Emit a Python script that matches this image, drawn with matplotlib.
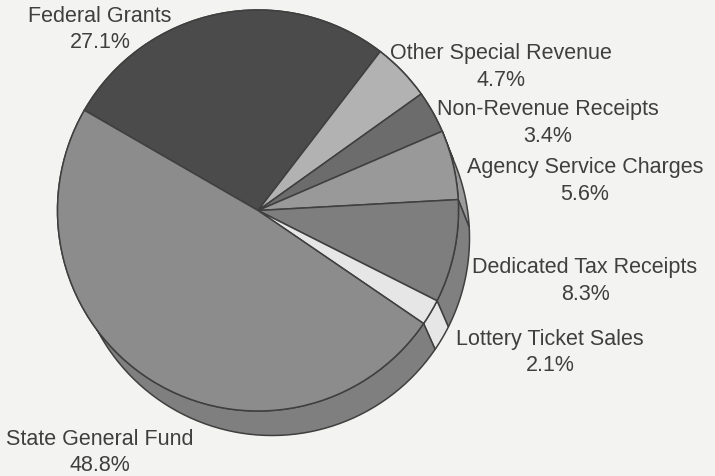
import matplotlib
matplotlib.use('Agg')
import matplotlib.pyplot as plt
import numpy as np

# revenue sources, clockwise from the Federal Grants slice
sources = ['Federal Grants', 'Other Special Revenue', 'Non-Revenue Receipts',
           'Agency Service Charges', 'Dedicated Tax Receipts',
           'Lottery Ticket Sales', 'State General Fund']
percent = [27.1, 4.7, 3.4, 5.6, 8.3, 2.1, 48.8]
shades = ['#4b4b4b', '#b2b2b2', '#6c6c6c', '#999999', '#7e7e7e', '#e6e6e6', '#8c8c8c']
side_shades = ['#4b4b4b', '#b2b2b2', '#6c6c6c', '#9b9b9b', '#808080', '#e6e6e6', '#7f7f7f']

W, H = 715, 477
START = 150

plt.rcParams['font.family'] = ['Liberation Sans', 'DejaVu Sans']
ink = '#3f3f3f'

fig = plt.figure(figsize=(W / 100, H / 100), dpi=100, facecolor='#f3f3f1')
ax = fig.add_axes([0, 0, 1, 1])

# top face and the lower rim that gives the pie its thickness
top_c = np.array([258.0, H - 211.5])
low_c = np.array([272.0, H - 239.0])
top_r = 200.5
low_r = 197.5

# side walls first so the top face covers their inner part
edges = START - np.concatenate([[0], np.cumsum(percent)]) * 3.6
for i in range(len(percent)):
    a = np.radians(np.linspace(edges[i], edges[i + 1], 80))
    up = top_c + top_r * np.column_stack([np.cos(a), np.sin(a)])
    down = low_c + low_r * np.column_stack([np.cos(a), np.sin(a)])
    ax.fill(np.r_[up[:, 0], down[::-1, 0]], np.r_[up[:, 1], down[::-1, 1]],
            facecolor=side_shades[i], edgecolor=ink, linewidth=1.1, zorder=1)

ax.pie(percent, colors=shades, startangle=START, counterclock=False,
       radius=top_r, center=tuple(top_c), frame=True,
       wedgeprops={'edgecolor': ink, 'linewidth': 1.1, 'zorder': 2})

# label centres in pixels from the top left
label_x = [100, 501, 548, 585, 585, 550, 100]
label_y = [17, 54, 110, 168, 268, 340, 440]
for name, pct, x, y in zip(sources, percent, label_x, label_y):
    ax.text(x, H - y, name, ha='center', va='center', fontsize=15.5, color=ink, zorder=3)
    ax.text(x, H - y - 26, f'{pct:.1f}%', ha='center', va='center', fontsize=15.5,
            color=ink, zorder=3)

ax.set_xlim(0, W)
ax.set_ylim(0, H)
ax.axis('off')

fig.savefig('out.png', dpi=100, facecolor=fig.get_facecolor())
